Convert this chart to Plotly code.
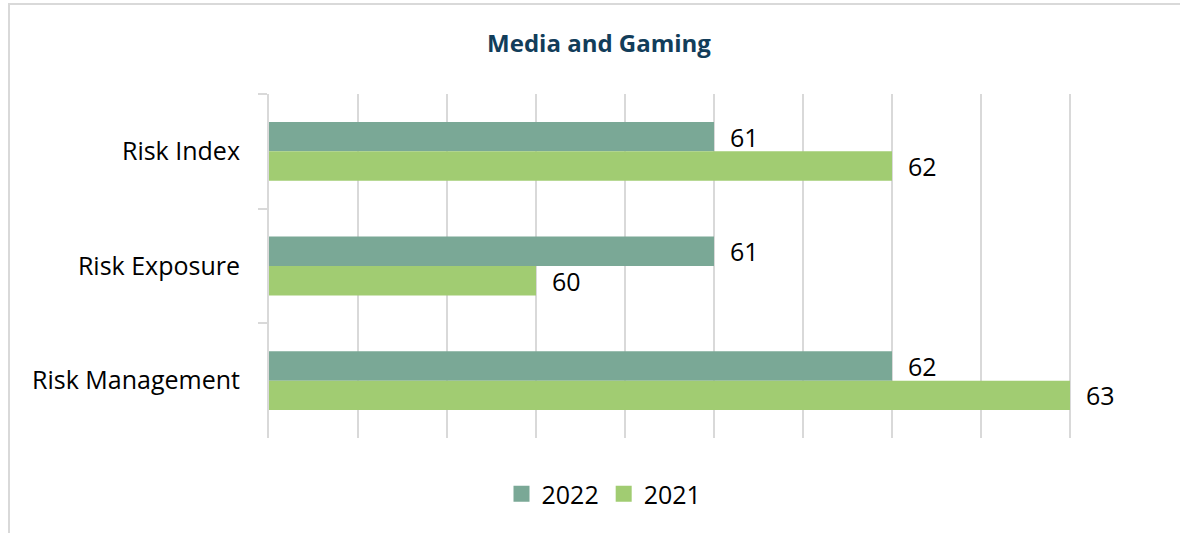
import plotly.graph_objects as go

# Chart data
categories = ["Risk Index", "Risk Exposure", "Risk Management"]
values_2022 = [61, 61, 62]
values_2021 = [62, 60, 63]
series_names = ["2022", "2021"]

COLOR_2022 = "#7AA896"
COLOR_2021 = "#A1CC72"
GRID = "#D9D9D9"
FONT = "Open Sans"
LABEL_SIZE = 25

fig = go.Figure()
for name, vals, color in [
    (series_names[0], values_2022, COLOR_2022),
    (series_names[1], values_2021, COLOR_2021),
]:
    fig.add_trace(go.Bar(
        name=name,
        y=categories,
        x=vals,
        orientation="h",
        marker=dict(color=color, line=dict(width=0)),
        text=vals,
        texttemplate="  %{x}",
        textposition="outside",
        constraintext="none",
        textfont=dict(family=FONT, size=LABEL_SIZE, color="#000000"),
        cliponaxis=False,
        showlegend=False,
        legendgroup=name,
    ))

# Legend entries with larger square swatches
for name, color in [(series_names[0], COLOR_2022), (series_names[1], COLOR_2021)]:
    fig.add_trace(go.Scatter(
        name=name,
        x=[None],
        y=[None],
        mode="markers",
        marker=dict(symbol="square", size=16, color=color),
        legendgroup=name,
        showlegend=True,
    ))

# Plot-area geometry in pixels (used to place the outer border)
W, H = 1180, 533
L, R, T, B = 269, 21, 94, 95
pw, ph = W - L - R, H - T - B


def px_x(x):
    return (x - L) / pw


def px_y(y):
    return (H - B - y) / ph


fig.update_layout(
    width=W,
    height=H,
    margin=dict(l=L, r=R, t=T, b=B),
    paper_bgcolor="white",
    plot_bgcolor="white",
    barmode="group",
    bargap=0.487,
    bargroupgap=0,
    font=dict(family=FONT, size=LABEL_SIZE, color="#000000"),
    title=dict(
        text="<b>Media and Gaming</b>",
        x=599 / W,
        xanchor="center",
        xref="container",
        y=1 - 44 / H,
        yanchor="middle",
        yref="container",
        font=dict(family=FONT, size=24, color="#123D5A"),
    ),
    legend=dict(
        orientation="h",
        xref="container",
        yref="container",
        x=604 / W,
        xanchor="center",
        y=1 - 494 / H,
        yanchor="middle",
        font=dict(family=FONT, size=LABEL_SIZE, color="#000000"),
        itemwidth=30,
        traceorder="normal",
    ),
    showlegend=True,
    xaxis=dict(
        range=[58.5, 63.5],
        tick0=58.5,
        dtick=0.5,
        showticklabels=False,
        showgrid=True,
        gridcolor=GRID,
        gridwidth=2,
        zeroline=False,
        showline=False,
        ticks="",
    ),
    yaxis=dict(
        autorange="reversed",
        showgrid=False,
        showline=True,
        linecolor=GRID,
        linewidth=2,
        ticks="outside",
        tickson="boundaries",
        ticklen=9,
        tickwidth=2,
        tickcolor=GRID,
        ticklabelstandoff=22,
        tickfont=dict(family=FONT, size=LABEL_SIZE, color="#000000"),
    ),
    shapes=[
        dict(
            type="rect",
            xref="paper",
            yref="paper",
            x0=px_x(9),
            x1=px_x(W + 10),
            y0=px_y(H + 10),
            y1=px_y(4),
            line=dict(color=GRID, width=2),
            fillcolor="rgba(0,0,0,0)",
            layer="below",
        )
    ],
)

fig.write_html("out.html")
